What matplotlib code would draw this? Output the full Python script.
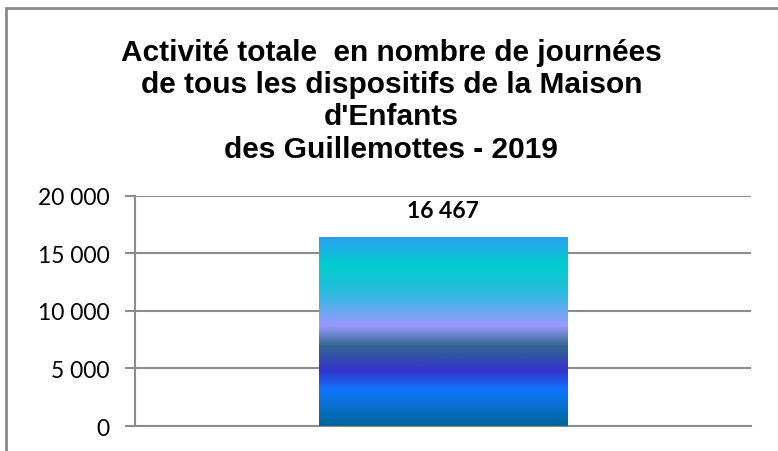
import numpy as np
import matplotlib.pyplot as plt
from matplotlib.colors import LinearSegmentedColormap
from matplotlib.patches import Rectangle

# data
categories = [""]
values = [16467]
title = ("Activité totale  en nombre de journées\n"
         "de tous les dispositifs de la Maison\n"
         "d'Enfants\n"
         "des Guillemottes - 2019")
yticks = [0, 5000, 10000, 15000, 20000]

# gradient stops, bottom (0) to top (1)
grad_stops = [(0.00, "#006699"), (0.19, "#1177ff"), (0.29, "#3333cc"),
              (0.42, "#336690"), (0.53, "#9999ff"), (0.70, "#2abadd"),
              (0.85, "#00cccc"), (1.00, "#2b9ef0")]
cmap = LinearSegmentedColormap.from_list("ocean", grad_stops)


def fr(v):
    return f"{int(v):,}".replace(",", " ")


fig = plt.figure(figsize=(7.78, 4.52), dpi=100)
ax = fig.add_axes([0.1735, 0.0553, 0.7918, 0.5089])

bars = ax.bar(range(len(values)), values, width=0.4026, color="none", zorder=3)
ax.set_xlim(-0.5, 0.5)
ax.set_ylim(0, 20000)

for b in bars:
    x0, y0 = b.get_x(), b.get_y()
    w, h = b.get_width(), b.get_height()
    grad = np.linspace(0, 1, 256).reshape(-1, 1)
    im = ax.imshow(grad, cmap=cmap, origin="lower", aspect="auto",
                   extent=(x0, x0 + w, y0, y0 + h), zorder=3)
    im.set_clip_path(b)
    ax.text(x0 + w / 2, y0 + h + 1350, fr(h), ha="center", va="bottom",
            fontsize=16.5, fontweight="bold", family="Lato")

ax.set_xlim(-0.5, 0.5)
ax.set_ylim(0, 20000)

grid_color = "#8c8c8c"
ax.set_yticks(yticks)
ax.set_yticklabels([fr(t) for t in yticks], family="Lato", fontsize=16.5)
ax.yaxis.grid(True, color=grid_color, linewidth=1.5, zorder=0)
ax.set_axisbelow(True)
ax.set_xticks([])
for side in ["top", "right"]:
    ax.spines[side].set_visible(False)
ax.spines["left"].set_color(grid_color)
ax.spines["bottom"].set_color(grid_color)
ax.spines["left"].set_linewidth(1.5)
ax.spines["bottom"].set_linewidth(1.5)
ax.tick_params(axis="y", length=7, width=1.5, color=grid_color, pad=11)

fig.text(0.503, 0.776, title, ha="center", va="center", fontsize=21.5,
         fontweight="bold", family="Liberation Sans", linespacing=1.2)

# chart frame
fig.add_artist(Rectangle((6 / 778, -0.1), 1.2, 1.1 - 9 / 452,
                         transform=fig.transFigure, fill=False,
                         edgecolor="#8a8a8a", linewidth=2))

fig.savefig("out.png", dpi=100)
